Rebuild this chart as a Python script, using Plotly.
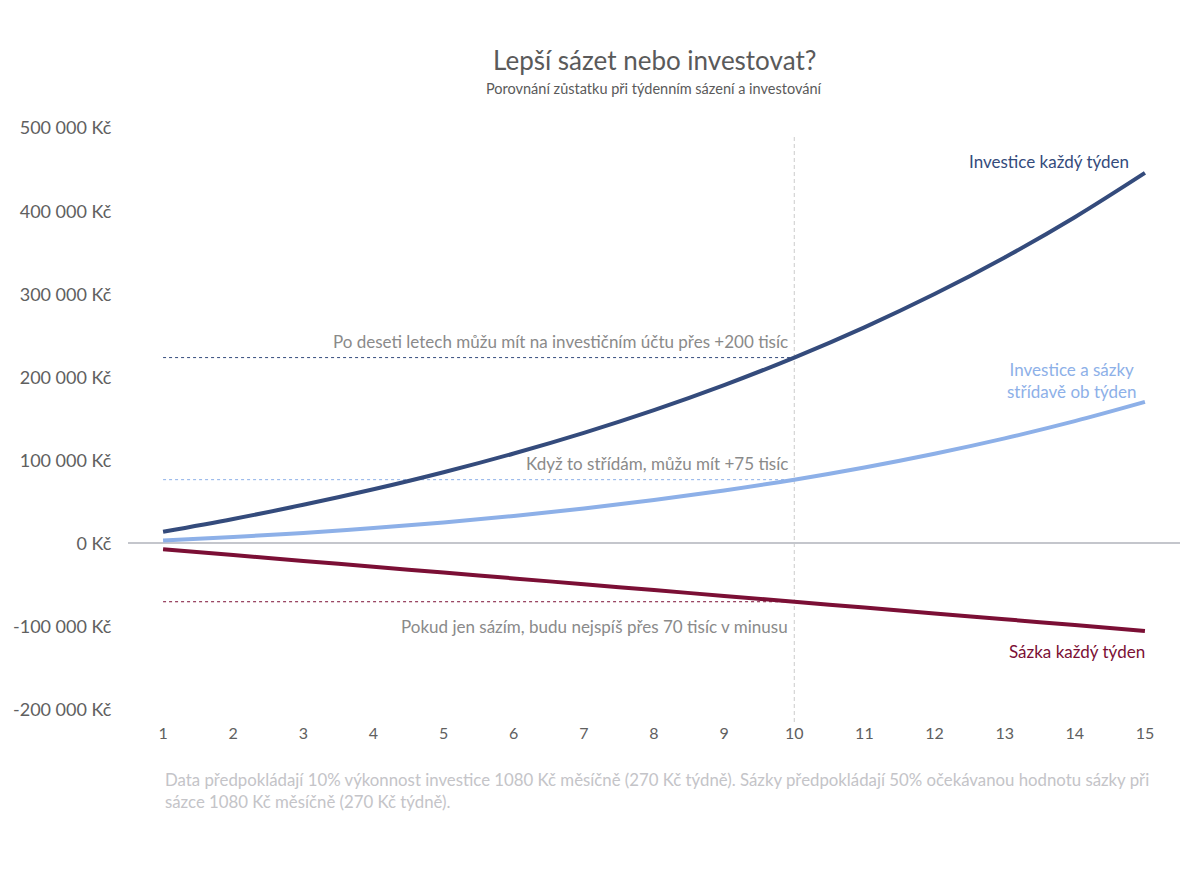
import plotly.graph_objects as go

# years on the x axis
years = list(range(1, 16))

# balance in Kč
invest_weekly = [14040, 29484, 46472, 65160, 85716, 108328, 133200, 160560,
                 190656, 223762, 260178, 300236, 344300, 392770, 446087]
alternate = [3510, 7722, 12706, 18540, 25308, 33104, 42030, 52200,
             63738, 76781, 91479, 107998, 126519, 147245, 170393]
bet_weekly = [-7020, -14040, -21060, -28080, -35100, -42120, -49140, -56160,
              -63180, -70200, -77220, -84240, -91260, -98280, -105300]

y_ticks = [-200000, -100000, 0, 100000, 200000, 300000, 400000, 500000]
y_labels = ['-200 000 Kč', '-100 000 Kč', '0 Kč', '100 000 Kč', '200 000 Kč',
            '300 000 Kč', '400 000 Kč', '500 000 Kč']

DARK = '#344b7c'
LIGHT = '#8db0e8'
RED = '#7b0f35'
FONT = 'Lato'

fig = go.Figure()

# reference lines up to year 10
ref_year = 10
idx = years.index(ref_year)
for vals, col in [(invest_weekly, DARK), (alternate, LIGHT), (bet_weekly, RED)]:
    fig.add_trace(go.Scatter(x=[years[0], ref_year], y=[vals[idx], vals[idx]], mode='lines',
                             line=dict(color=col, width=1, dash='3px,3px'),
                             hoverinfo='skip', showlegend=False))

fig.add_shape(type='line', x0=ref_year, x1=ref_year, y0=-215000, y1=490000,
              line=dict(color='#cccccc', width=1, dash='4px,3px'), layer='below')

for vals, col, name in [(invest_weekly, DARK, 'Investice každý týden'),
                        (alternate, LIGHT, 'Investice a sázky střídavě ob týden'),
                        (bet_weekly, RED, 'Sázka každý týden')]:
    fig.add_trace(go.Scatter(x=years, y=vals, mode='lines', name=name,
                             line=dict(color=col, width=4, shape='spline'),
                             showlegend=False))

# text on the reference lines
notes = [
    (invest_weekly[idx], 'Po deseti letech můžu mít na investičním účtu přes +200 tisíc', 'bottom', 4),
    (alternate[idx], 'Když to střídám, můžu mít +75 tisíc', 'bottom', 4),
    (bet_weekly[idx], 'Pokud jen sázím, budu nejspíš přes 70 tisíc v minusu', 'top', -12),
]
for yv, txt, ya, ys in notes:
    fig.add_annotation(x=ref_year, y=yv, text=txt, showarrow=False, xanchor='right',
                       yanchor=ya, yshift=ys, xshift=-4,
                       font=dict(family=FONT, size=17, color='#8a8a8a'))

# series labels
fig.add_annotation(x=15, y=460000, text='Investice každý týden', showarrow=False,
                   xanchor='right', xshift=-14, font=dict(family=FONT, size=17, color=DARK))
fig.add_annotation(x=13.96, y=196000, text='Investice a sázky<br>střídavě ob týden', showarrow=False,
                   xanchor='center', align='center', font=dict(family=FONT, size=17, color=LIGHT))
fig.add_annotation(x=15, y=-130000, text='Sázka každý týden', showarrow=False,
                   xanchor='right', xshift=2, font=dict(family=FONT, size=17, color=RED))

# title + subtitle (y given in pixels from the top, converted below)
fig.add_annotation(x=0.5, y=52, xref='paper', yref='paper', text='Lepší sázet nebo investovat?',
                   showarrow=False, font=dict(family=FONT, size=26, color='#5a5a5a'))
fig.add_annotation(x=0.5, y=80, xref='paper', yref='paper',
                   text='Porovnání zůstatku při týdenním sázení a investování',
                   showarrow=False, font=dict(family=FONT, size=14.5, color='#5a5a5a'))

# footnote
fig.add_annotation(x=0.033, y=-0.075, xref='paper', yref='paper', xanchor='left', yanchor='top',
                   align='left', showarrow=False,
                   text='Data předpokládají 10% výkonnost investice 1080 Kč měsíčně (270 Kč týdně). '
                        'Sázky předpokládají 50% očekávanou hodnotu sázky při<br>'
                        'sázce 1080 Kč měsíčně (270 Kč týdně).',
                   font=dict(family=FONT, size=16.8, color='#c4c4c8'))

fig.update_layout(
    width=1200, height=873,
    paper_bgcolor='white', plot_bgcolor='white',
    margin=dict(l=120, r=28, t=116, b=159),
    font=dict(family=FONT, color='#555555'),
    xaxis=dict(range=[0.5, 15.5], tickmode='array', tickvals=years,
               showgrid=False, zeroline=False, showline=False, automargin=False,
               tickfont=dict(family=FONT, size=16, color='#606060'),
               ticks=''),
    yaxis=dict(range=[-215000, 505000], tickmode='array', tickvals=y_ticks, ticktext=y_labels,
               showgrid=False, zeroline=True, zerolinecolor='#c4c6cc', zerolinewidth=1.5,
               showline=False, automargin=False,
               tickfont=dict(family=FONT, size=18, color='#606060'),
               ticks='outside', ticklen=12, tickcolor='rgba(0,0,0,0)'),
    hovermode='closest',
)

# title annotations are placed in pixels from the top of the figure
plot_h = 873 - 116 - 159
for a in fig.layout.annotations[-3:-1]:
    a.y = 1 + (116 - a.y) / plot_h
    a.yanchor = 'middle'

fig.write_html('out.html')
